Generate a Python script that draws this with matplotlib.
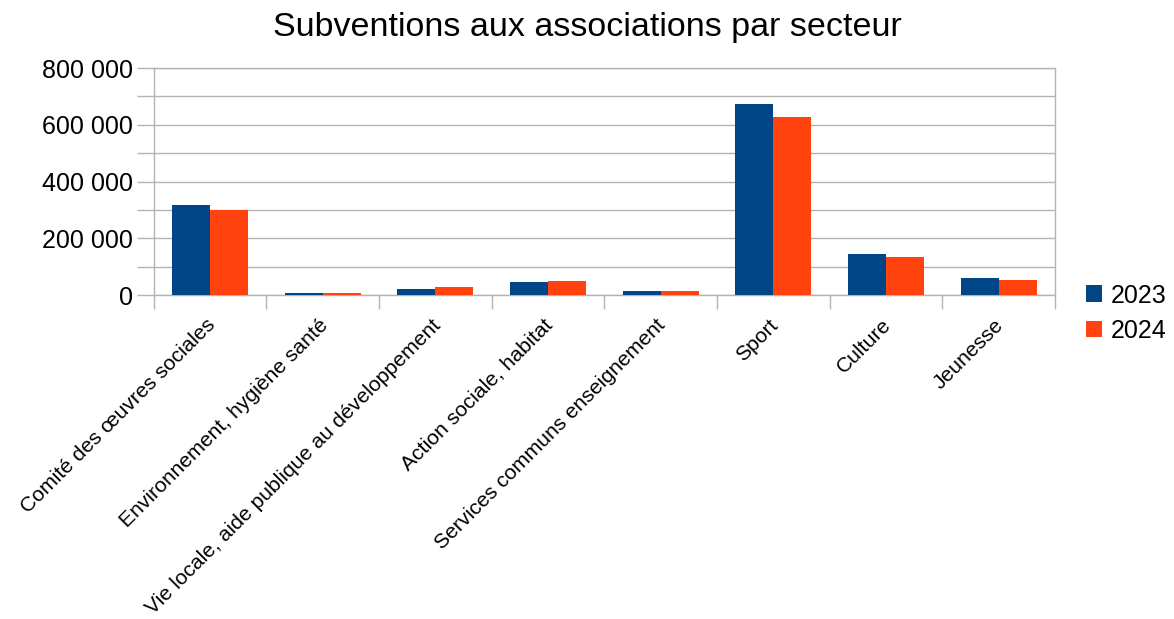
import matplotlib
matplotlib.use("Agg")
import matplotlib.pyplot as plt
import matplotlib.transforms as mtransforms
import numpy as np
from matplotlib.ticker import MultipleLocator, FuncFormatter

plt.rcParams['font.family'] = ['Liberation Sans', 'DejaVu Sans']

secteurs = ['Comité des œuvres sociales', 'Environnement, hygiène santé',
            'Vie locale, aide publique au développement', 'Action sociale, habitat',
            'Services communs enseignement', 'Sport', 'Culture', 'Jeunesse']
v2023 = [318000, 8000, 22000, 47000, 15000, 674000, 145000, 60000]
v2024 = [300000, 8000, 29000, 50000, 15000, 628000, 135000, 54000]
annees = ['2023', '2024']

fig = plt.figure(figsize=(11.74, 6.19), dpi=100)
ax = fig.add_axes([0.131, 0.523, 0.7676, 0.367])

x = np.arange(len(secteurs))
w = 0.3375
ax.bar(x - w / 2, v2023, w, color='#004586', label=annees[0], zorder=3)
ax.bar(x + w / 2, v2024, w, color='#ff420e', label=annees[1], zorder=3)

ax.set_xlim(-0.5, len(secteurs) - 0.5)
ax.set_ylim(0, 800000)
ax.yaxis.set_major_locator(MultipleLocator(200000))
ax.yaxis.set_minor_locator(MultipleLocator(100000))
ax.yaxis.set_major_formatter(FuncFormatter(lambda v, p: f'{int(v):,}'.replace(',', ' ')))
ax.grid(axis='y', which='both', color='#b3b3b3', linewidth=1, zorder=0)

# ticks on category boundaries, labels drawn as texts under the centres
ax.set_xticks(np.arange(-0.5, len(secteurs)))
ax.set_xticklabels([])
ax.tick_params(axis='x', length=10, color='#b3b3b3', width=1)
ax.tick_params(axis='y', which='both', length=12, color='#b3b3b3', width=1,
               labelsize=18, pad=3)

off = mtransforms.ScaledTranslation(0.02, -0.27, fig.dpi_scale_trans)
for xi, lab in zip(x, secteurs):
    ax.text(xi, 0, lab, transform=ax.get_xaxis_transform() + off,
            rotation=45, rotation_mode='anchor', ha='right', va='center',
            fontsize=15.2)

for s in ax.spines.values():
    s.set_color('#b3b3b3')
    s.set_linewidth(1)

fig.suptitle('Subventions aux associations par secteur', fontsize=24.5, x=0.5, y=0.98)

fig.legend(loc='center left', bbox_to_anchor=(0.925, 0.494), frameon=False,
           fontsize=18, handlelength=0.65, handleheight=0.65, handletextpad=0.35,
           labelspacing=0.45, borderaxespad=0, borderpad=0)

fig.savefig('out.png', dpi=100)
